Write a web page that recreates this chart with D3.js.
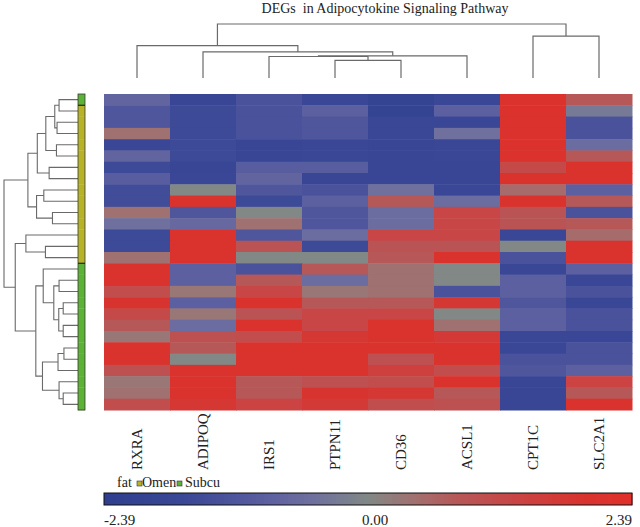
<!DOCTYPE html>
<html>
<head>
<meta charset="utf-8">
<script src="https://cdn.jsdelivr.net/npm/d3@7"></script>
<style>
  body { margin: 0; background: #fff; }
</style>
</head>
<body>
<script>
const genes = ["RXRA", "ADIPOQ", "IRS1", "PTPN11", "CD36", "ACSL1", "CPT1C", "SLC2A1"];

// tissue of each sample row (top to bottom)
const tissue = ["Subcu",
  "Omen", "Omen", "Omen", "Omen", "Omen", "Omen", "Omen",
  "Omen", "Omen", "Omen", "Omen", "Omen", "Omen", "Omen",
  "Subcu", "Subcu", "Subcu", "Subcu", "Subcu", "Subcu", "Subcu",
  "Subcu", "Subcu", "Subcu", "Subcu", "Subcu", "Subcu"];

// expression z-scores, one row per sample, columns follow genes
const values = [
  [-0.8, -1.8, -1.3, -1.7, -2.0, -1.7, 2.1, 0.8],
  [-1.2, -1.6, -1.3, -0.9, -2.0, -0.9, 2.1, -0.3],
  [-1.2, -1.6, -1.3, -1.2, -1.7, -1.7, 2.1, -1.3],
  [0.4, -1.6, -1.3, -1.2, -1.7, -0.5, 2.1, -1.3],
  [-1.7, -1.6, -1.8, -1.7, -1.8, -1.7, 2.1, -0.6],
  [-0.8, -1.6, -1.8, -1.7, -1.8, -1.7, 2.1, 0.8],
  [-1.6, -1.8, -1.0, -1.0, -1.8, -1.8, 1.2, 2.0],
  [-1.0, -1.7, -0.8, -1.8, -1.8, -1.8, 2.0, 2.0],
  [-1.5, 0.0, -1.2, -1.3, -0.5, -1.7, 0.5, -0.9],
  [-1.5, 2.0, -1.6, -0.9, 0.8, -0.6, 2.0, 0.8],
  [0.4, -1.2, 0.0, -1.2, -0.6, 1.3, 0.9, -1.3],
  [-0.5, -0.7, 0.4, -1.2, -0.6, 1.3, 0.9, 0.8],
  [-1.6, 2.0, -1.2, -0.6, 1.3, 1.3, -1.7, 0.5],
  [-1.6, 2.0, 0.9, -1.6, 0.9, 0.9, 0.0, 2.0],
  [0.4, 2.0, 0.0, 0.0, 0.8, 2.0, -1.3, 2.0],
  [2.0, -0.9, -1.3, 0.8, 0.4, 0.0, -1.7, -0.9],
  [2.0, -0.9, 0.8, -0.6, 0.4, 0.0, -0.9, -1.7],
  [1.1, 0.3, 1.3, 0.3, 0.4, -1.3, -0.9, -1.3],
  [1.9, -0.9, 2.0, 0.8, 0.8, 1.8, -1.2, -1.7],
  [1.2, 0.3, 0.9, 1.3, 1.3, 0.0, -0.9, -1.3],
  [0.8, -0.6, 2.0, 1.3, 2.0, 0.4, -0.9, -1.3],
  [0.3, 1.0, 1.1, 1.8, 2.0, 1.7, -1.7, -1.7],
  [2.0, 0.8, 2.0, 2.0, 2.0, 2.0, -1.7, -1.3],
  [2.0, 0.0, 2.0, 2.0, 1.0, 2.0, -1.3, -1.3],
  [1.0, 2.0, 2.0, 2.0, 1.5, 1.1, -1.2, -0.9],
  [0.3, 2.0, 0.8, 1.0, 1.1, 2.0, -1.8, 1.4],
  [0.4, 2.0, 0.8, 1.9, 1.8, 0.8, -1.8, 0.8],
  [1.1, 1.8, 1.4, 1.7, 1.1, 1.0, -1.8, 2.0]
];

// linkage: [child a, child b, height]; leaves are 0..n-1, merge k gets id n+k
const rowMerges = [
  [0, 1, 0.256], [2, 3, 0.283], [28, 29, 0.314], [4, 5, 0.291],
  [30, 31, 0.435], [6, 7, 0.39], [32, 33, 0.55], [8, 9, 0.462],
  [10, 11, 0.345], [35, 36, 0.56], [34, 37, 0.677], [13, 14, 0.44],
  [12, 39, 0.704], [16, 17, 0.256], [18, 19, 0.2], [20, 21, 0.2],
  [42, 43, 0.26], [41, 44, 0.327], [15, 45, 0.47], [22, 23, 0.19],
  [47, 24, 0.27], [26, 27, 0.2], [25, 49, 0.256], [48, 50, 0.48],
  [46, 51, 0.57], [40, 52, 0.848], [38, 53, 1.0]
];
const colMerges = [
  [3, 4, 0.326], [2, 8, 0.398], [9, 5, 0.411], [1, 10, 0.483],
  [0, 11, 0.6], [6, 7, 0.776], [12, 13, 1.0]
];

const colorTicks = [-2.39, 0, 2.39];
const tissueColor = { Omen: "#b8b226", Subcu: "#5bb234" };

const width = 640;
const height = 527;
const serif = "'Liberation Serif', 'Times New Roman', Times, 'DejaVu Serif', serif";

const svg = d3
  .select("body")
  .append("svg")
  .attr("width", width)
  .attr("height", height)
  .attr("font-family", serif);

const x = d3.scaleBand().domain(d3.range(genes.length)).range([104, 632]);
const y = d3.scaleBand().domain(d3.range(values.length)).range([94, 410]);

const color = d3
  .scaleLinear()
  .domain([-2.39, -1.7, -1.3, -0.9, -0.5, 0, 0.4, 0.8, 1.3, 1.9, 2.39])
  .range(["#2f3e8e", "#394796", "#4a529b", "#5d60a0", "#6f709e", "#818886",
          "#a07171", "#b65858", "#c84646", "#d8342f", "#e0302b"])
  .clamp(true);

// heatmap cells
values.forEach((row, i) => {
  svg
    .append("g")
    .selectAll("rect")
    .data(row)
    .enter()
    .append("rect")
    .attr("x", (d, j) => x(j))
    .attr("y", y(i))
    .attr("width", x.bandwidth() + 0.5)
    .attr("height", y.bandwidth() + 0.5)
    .attr("fill", (d) => color(d));
});

// dendrogram segments from a linkage table
function linkPaths(merges, n, leafPos, hPos, vertical) {
  const pos = d3.range(n).map(leafPos);
  const hgt = d3.range(n).map(() => 0);
  const paths = [];
  merges.forEach(([a, b, h]) => {
    const pts = [[pos[a], hgt[a]], [pos[a], h], [pos[b], h], [pos[b], hgt[b]]];
    paths.push(pts.map(([p, v]) => (vertical ? [p, hPos(v)] : [hPos(v), p])));
    pos.push((pos[a] + pos[b]) / 2);
    hgt.push(h);
  });
  return paths;
}

const colH = d3.scaleLinear().domain([0, 1]).range([78, 24]);
const rowH = d3.scaleLinear().domain([0, 1]).range([78, 4]);

svg
  .append("g")
  .selectAll("path")
  .data(linkPaths(colMerges, genes.length, (j) => x(j) + x.bandwidth() / 2, colH, true))
  .enter()
  .append("path")
  .attr("d", d3.line())
  .attr("fill", "none")
  .attr("stroke", "#6a6a6a")
  .attr("stroke-width", 1.2);

svg
  .append("g")
  .selectAll("path")
  .data(linkPaths(rowMerges, values.length, (i) => y(i) + y.bandwidth() / 2, rowH, false))
  .enter()
  .append("path")
  .attr("d", d3.line())
  .attr("fill", "none")
  .attr("stroke", "#6a6a6a")
  .attr("stroke-width", 1.1);

// tissue strip
svg
  .append("g")
  .selectAll("rect")
  .data(tissue)
  .enter()
  .append("rect")
  .attr("x", 78)
  .attr("y", (d, i) => y(i))
  .attr("width", 7)
  .attr("height", y.bandwidth() + 0.3)
  .attr("fill", (d) => tissueColor[d]);

svg
  .append("rect")
  .attr("x", 78)
  .attr("y", 94)
  .attr("width", 7)
  .attr("height", 316)
  .attr("fill", "none")
  .attr("stroke", "#3a3a3a")
  .attr("stroke-width", 0.8);

tissue.forEach((t, i) => {
  if (i > 0 && t !== tissue[i - 1]) {
    svg
      .append("line")
      .attr("x1", 78)
      .attr("x2", 85)
      .attr("y1", y(i))
      .attr("y2", y(i))
      .attr("stroke", "#222")
      .attr("stroke-width", 1.2);
  }
});

// title
svg
  .append("text")
  .attr("x", 385)
  .attr("y", 13)
  .attr("text-anchor", "middle")
  .attr("font-size", 14)
  .attr("fill", "#222")
  .attr("xml:space", "preserve")
  .text("DEGs  in Adipocytokine Signaling Pathway");

// gene labels
svg
  .append("g")
  .selectAll("text")
  .data(genes)
  .enter()
  .append("text")
  .attr("transform", (d, j) => `translate(${x(j) + x.bandwidth() / 2 + 5},470) rotate(-90)`)
  .attr("font-size", 15)
  .attr("fill", "#222")
  .text((d) => d);

// tissue legend
const legend = svg.append("g").attr("font-size", 14).attr("fill", "#222");
legend.append("text").attr("x", 117).attr("y", 487).text("fat");
legend.append("rect").attr("x", 137).attr("y", 481).attr("width", 5).attr("height", 5)
  .attr("fill", tissueColor.Omen).attr("stroke", "#333").attr("stroke-width", 0.6);
legend.append("text").attr("x", 142).attr("y", 487).text("Omen");
legend.append("rect").attr("x", 177).attr("y", 481).attr("width", 5).attr("height", 5)
  .attr("fill", tissueColor.Subcu).attr("stroke", "#333").attr("stroke-width", 0.6);
legend.append("text").attr("x", 185).attr("y", 487).text("Subcu");

// colour bar
const bar = d3.scaleLinear().domain([-2.39, 2.39]).range([104, 632]);
const steps = d3.range(0, 132).map((k) => -2.39 + (k * 4.78) / 132);
svg
  .append("g")
  .selectAll("rect")
  .data(steps)
  .enter()
  .append("rect")
  .attr("x", (d) => bar(d))
  .attr("y", 493)
  .attr("width", 4.5)
  .attr("height", 12)
  .attr("fill", (d) => color(d + 4.78 / 264));

svg
  .append("rect")
  .attr("x", 104)
  .attr("y", 493)
  .attr("width", 528)
  .attr("height", 12)
  .attr("fill", "none")
  .attr("stroke", "#111")
  .attr("stroke-width", 1);

svg
  .append("g")
  .selectAll("text")
  .data(colorTicks)
  .enter()
  .append("text")
  .attr("x", (d) => bar(d) + (d === 0 ? 7 : 0))
  .attr("y", 525)
  .attr("text-anchor", (d) => (d < 0 ? "start" : d > 0 ? "end" : "middle"))
  .attr("font-size", 15)
  .attr("fill", "#222")
  .text((d) => d.toFixed(2));
</script>
</body>
</html>
